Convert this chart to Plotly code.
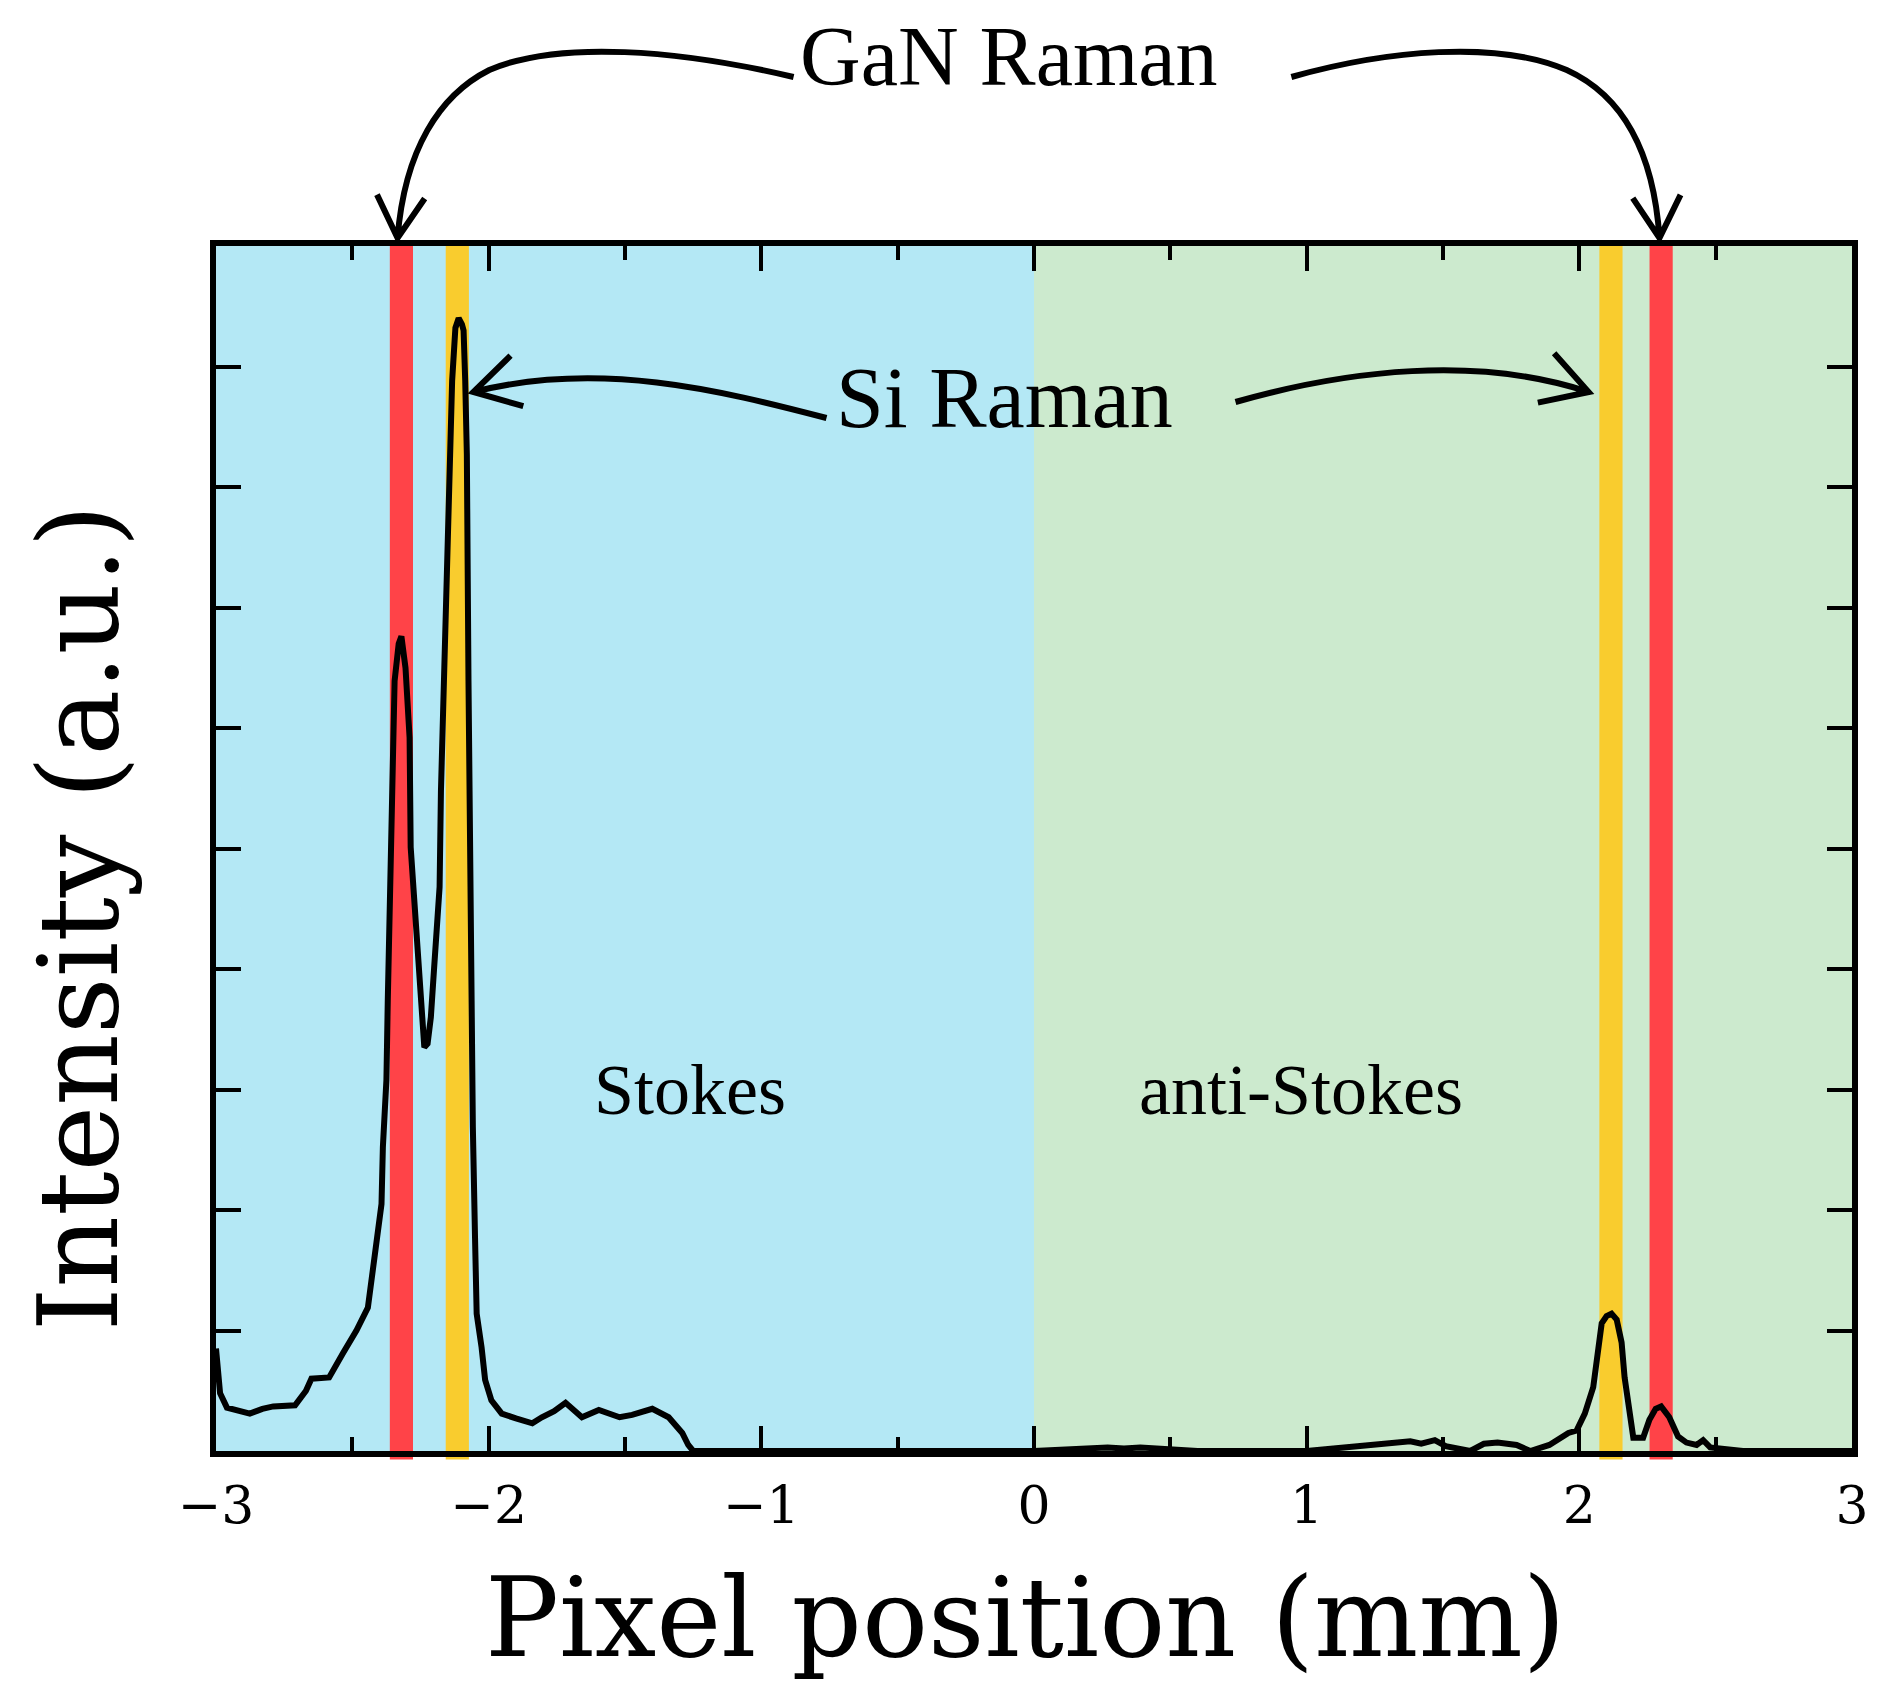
import math
import plotly.graph_objects as go

# ---------------- data ----------------
x_pos = [-3.0, -2.985, -2.96, -2.92, -2.876, -2.83, -2.79, -2.71, -2.67, -2.65, -2.585, -2.535,
         -2.485, -2.443, -2.425, -2.407, -2.393, -2.388, -2.375, -2.37, -2.363, -2.358, -2.345,
         -2.33, -2.32, -2.305, -2.29, -2.286, -2.262, -2.248, -2.236, -2.224, -2.212, -2.2, -2.18,
         -2.175, -2.164, -2.158, -2.152, -2.14, -2.134, -2.122, -2.11, -2.098, -2.092, -2.086,
         -2.08, -2.074, -2.066, -2.062, -2.058, -2.05, -2.044, -2.026, -2.013, -1.99, -1.952,
         -1.90, -1.84, -1.805, -1.76, -1.718, -1.658, -1.596, -1.52, -1.474, -1.40, -1.34, -1.29,
         -1.268, -1.25, -1.0, 0.0, 0.27, 0.33, 0.39, 0.6, 1.0, 1.26, 1.30, 1.38, 1.42, 1.47, 1.51,
         1.6, 1.65, 1.70, 1.77, 1.82, 1.89, 1.96, 1.99, 2.02, 2.051, 2.07, 2.082, 2.10, 2.118,
         2.137, 2.155, 2.166, 2.184, 2.198, 2.234, 2.257, 2.28, 2.30, 2.33, 2.362, 2.393, 2.43,
         2.454, 2.48, 2.6, 3.0]
intensity = [0.85, 0.48, 0.36, 0.33, 0.31, 0.35, 0.37, 0.38, 0.50, 0.60, 0.61, 0.81,
             1.0, 1.19, 1.53, 1.77, 2.05, 2.52, 3.08, 3.74, 4.57, 5.46, 6.39,
             6.70, 6.76, 6.50, 5.92, 5.01, 4.21, 3.68, 3.35, 3.38, 3.60, 4.01, 4.68,
             5.48, 6.40, 7.14, 7.72, 8.27, 8.88, 9.32, 9.40, 9.35, 9.30, 8.88,
             8.27, 6.39, 4.32, 3.08, 2.69, 1.77, 1.14, 0.86, 0.59, 0.42, 0.31,
             0.27, 0.23, 0.28, 0.33, 0.40, 0.28, 0.34, 0.28, 0.30, 0.35, 0.28, 0.15,
             0.05, 0.0, 0.0, 0.0, 0.03, 0.02, 0.03, 0.0, 0.0, 0.05, 0.07, 0.08, 0.06, 0.09, 0.04,
             0.0, 0.06, 0.07, 0.05, 0.0, 0.05, 0.15, 0.17, 0.31, 0.53, 0.84, 1.06, 1.12, 1.14,
             1.09, 0.90, 0.61, 0.28, 0.11, 0.11, 0.26, 0.35, 0.37, 0.28, 0.12, 0.07, 0.05,
             0.09, 0.03, 0.0, 0.0]

x_ticks = [-3, -2, -1, 0, 1, 2, 3]
y_ticks = [1, 2, 3, 4, 5, 6, 7, 8, 9]

stokes_range = [-3.0, 0.0]
anti_stokes_range = [0.0, 3.0]
gan_bands = [-2.32, 2.30]
si_bands = [-2.115, 2.116]
band_width = 0.085

# ---------------- style ----------------
FONT = "Liberation Serif"
TITLE_FONT = "DejaVu Serif"
BLUE = "#B4E8F5"
GREEN = "#CCEACE"
RED = "#FF4348"
YELLOW = "#F9CC2E"

W_FIG, H_FIG = 1881, 1684
L, R, T, B = 216, 1856, 246, 1451
PW, PH = R - L, B - T


def paper(xp, yp):
    return (xp - L) / PW, (B - yp) / PH


def arrow_path(points, head_len=48, half_angle=30):
    """points: pixel coords [start, c1, c2, end, (c1, c2, end)...]"""
    p = [paper(*q) for q in points]
    s = "M %.5f,%.5f" % p[0]
    i = 1
    while i + 2 < len(p):
        s += " C %.5f,%.5f %.5f,%.5f %.5f,%.5f" % (p[i] + p[i + 1] + p[i + 2])
        i += 3
    tip = points[-1]
    ctrl = points[-2]
    dx, dy = tip[0] - ctrl[0], tip[1] - ctrl[1]
    n = math.hypot(dx, dy)
    dx, dy = dx / n, dy / n
    arms = []
    for sgn in (1, -1):
        a = math.radians(half_angle) * sgn
        rx = dx * math.cos(a) - dy * math.sin(a)
        ry = dx * math.sin(a) + dy * math.cos(a)
        arms.append((tip[0] - head_len * rx, tip[1] - head_len * ry))
    a1, a2 = paper(*arms[0]), paper(*arms[1])
    t = paper(*tip)
    s += " M %.5f,%.5f L %.5f,%.5f L %.5f,%.5f" % (a1 + t + a2)
    return s


fig = go.Figure()
fig.add_trace(go.Scatter(x=x_pos, y=intensity, mode="lines",
                         line=dict(color="black", width=6), showlegend=False))

shapes = []
shapes.append(dict(type="rect", xref="x", yref="paper", x0=stokes_range[0], x1=stokes_range[1],
                   y0=0, y1=1, fillcolor=BLUE, line=dict(width=0), layer="below"))
shapes.append(dict(type="rect", xref="x", yref="paper", x0=anti_stokes_range[0], x1=anti_stokes_range[1],
                   y0=0, y1=1, fillcolor=GREEN, line=dict(width=0), layer="below"))
for c in gan_bands:
    shapes.append(dict(type="rect", xref="x", yref="paper", x0=c - band_width / 2, x1=c + band_width / 2,
                       y0=-0.007, y1=1, fillcolor=RED, line=dict(width=0), layer="below"))
for c in si_bands:
    shapes.append(dict(type="rect", xref="x", yref="paper", x0=c - band_width / 2, x1=c + band_width / 2,
                       y0=-0.007, y1=1, fillcolor=YELLOW, line=dict(width=0), layer="below"))

arrow_style = dict(type="path", xref="paper", yref="paper", line=dict(color="black", width=6), layer="above")
shapes.append(dict(path=arrow_path([(795, 77), (680, 50), (560, 40), (490, 70),
                                    (440, 95), (405, 150), (398, 238)]), **arrow_style))
shapes.append(dict(path=arrow_path([(1294, 77), (1390, 50), (1500, 40), (1570, 70),
                                    (1625, 95), (1657, 150), (1663, 238)]), **arrow_style))
shapes.append(dict(path=arrow_path([(828, 418), (720, 390), (600, 360), (474, 392)], head_len=52),
                   **arrow_style))
shapes.append(dict(path=arrow_path([(1238, 402), (1350, 370), (1480, 355), (1592, 392)], head_len=52),
                   **arrow_style))

annotations = []
gx, gy = paper(1011, 57)
annotations.append(dict(x=gx, y=gy, xref="paper", yref="paper", text="GaN Raman", showarrow=False,
                        font=dict(family=FONT, size=84, color="black"), xanchor="center", yanchor="middle"))
sx, sy = paper(1006, 398)
annotations.append(dict(x=sx, y=sy, xref="paper", yref="paper", text="Si Raman", showarrow=False,
                        font=dict(family=FONT, size=86, color="black"), xanchor="center", yanchor="middle"))
annotations.append(dict(x=-1.26, y=3.0, xref="x", yref="y", text="Stokes", showarrow=False,
                        font=dict(family=FONT, size=72, color="black"), xanchor="center", yanchor="middle"))
annotations.append(dict(x=0.98, y=3.0, xref="x", yref="y", text="anti-Stokes", showarrow=False,
                        font=dict(family=FONT, size=72, color="black"), xanchor="center", yanchor="middle"))
tx, ty = paper(1027, 1618)
annotations.append(dict(x=tx, y=ty, xref="paper", yref="paper", text="Pixel position (mm)", showarrow=False,
                        font=dict(family=TITLE_FONT, size=110, color="black"), xanchor="center", yanchor="middle"))
yx, yy = paper(78, 918)
annotations.append(dict(x=yx, y=yy, xref="paper", yref="paper", text="Intensity (a.u.)", showarrow=False,
                        textangle=-90,
                        font=dict(family=TITLE_FONT, size=111, color="black"), xanchor="center", yanchor="middle"))

fig.update_layout(
    width=W_FIG, height=H_FIG,
    margin=dict(l=L, r=W_FIG - R, t=T, b=H_FIG - B),
    paper_bgcolor="white", plot_bgcolor=BLUE,
    shapes=shapes, annotations=annotations,
    showlegend=False,
    xaxis=dict(range=[-3, 3], tickvals=x_ticks, ticktext=[("\u2212%d" % -v) if v < 0 else str(v) for v in x_ticks],
               ticks="inside", ticklen=25, tickwidth=4, tickcolor="black",
               minor=dict(ticks="inside", dtick=0.5, tick0=0, ticklen=14, tickwidth=4, tickcolor="black", showgrid=False),
               showline=True, linewidth=6, linecolor="black", mirror="ticks",
               showgrid=False, zeroline=False,
               tickfont=dict(family=TITLE_FONT, size=52, color="black"), ticklabelstandoff=4),
    yaxis=dict(range=[0, 10], tickvals=y_ticks, showticklabels=False,
               ticks="inside", ticklen=25, tickwidth=4, tickcolor="black",
               showline=True, linewidth=6, linecolor="black", mirror="ticks",
               showgrid=False, zeroline=False),
)

fig.write_html("out.html", config={"displayModeBar": False},
               post_script="document.body.style.margin='0';document.body.style.overflow='hidden';")
